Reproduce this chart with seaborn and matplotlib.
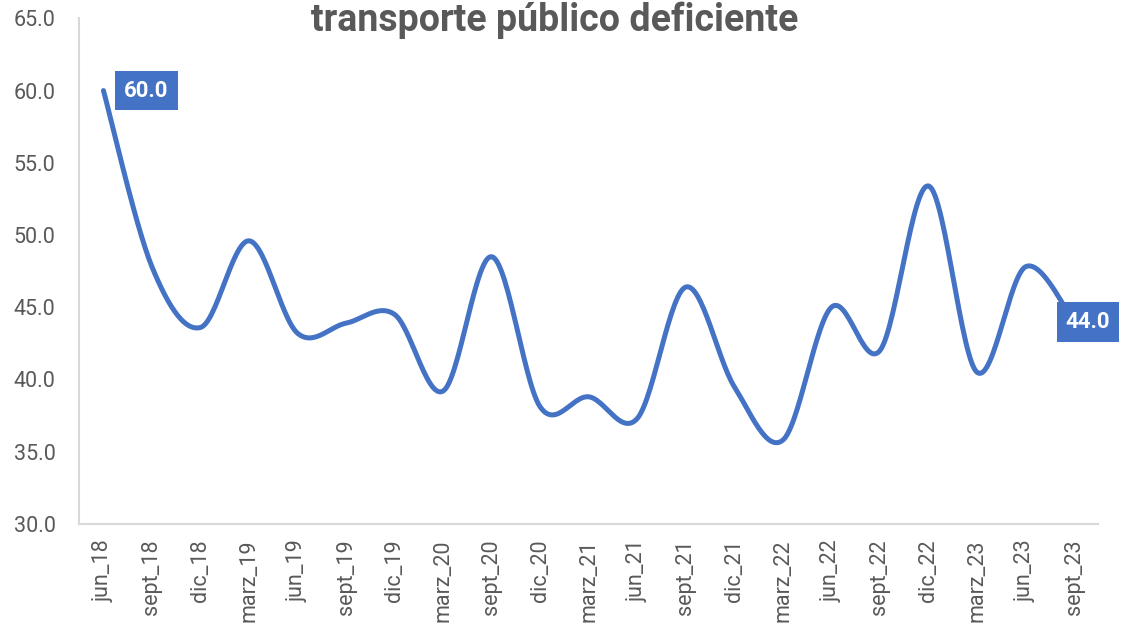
import numpy as np
import pandas as pd
import matplotlib
matplotlib.use("Agg")
import matplotlib.pyplot as plt
import seaborn as sns

# data
periods = ['jun_18', 'sept_18', 'dic_18', 'marz_19', 'jun_19', 'sept_19', 'dic_19',
           'marz_20', 'sept_20', 'dic_20', 'marz_21', 'jun_21', 'sept_21', 'dic_21',
           'marz_22', 'jun_22', 'sept_22', 'dic_22', 'marz_23', 'jun_23', 'sept_23']
values = [60.0, 47.8, 43.6, 49.6, 43.2, 43.9, 44.5,
          39.2, 48.5, 38.1, 38.8, 37.3, 46.4, 39.5,
          35.8, 45.0, 42.0, 53.4, 40.5, 47.8, 44.0]
title = 'transporte público deficiente'
y_ticks = [30, 35, 40, 45, 50, 55, 60, 65]

blue = '#4472C4'
grey = '#595959'

sns.set_theme(style='white')
plt.rcParams['font.family'] = ['Roboto', 'DejaVu Sans']

df = pd.DataFrame({'periodo': periods, 'valor': values})
df['pos'] = np.arange(len(df))


def smooth_line(x, y, n=30):
    '''Excel-like smoothed line: cubic bezier with catmull-rom control points'''
    x = np.asarray(x, float)
    y = np.asarray(y, float)
    xs, ys = [], []
    for i in range(len(x) - 1):
        x0, y0 = (x[i - 1], y[i - 1]) if i > 0 else (x[i], y[i])
        x3, y3 = (x[i + 2], y[i + 2]) if i + 2 < len(x) else (x[i + 1], y[i + 1])
        c1x = x[i] + (x[i + 1] - x0) / 6
        c1y = y[i] + (y[i + 1] - y0) / 6
        c2x = x[i + 1] - (x3 - x[i]) / 6
        c2y = y[i + 1] - (y3 - y[i]) / 6
        t = np.linspace(0, 1, n, endpoint=False)
        b0, b1, b2, b3 = (1 - t) ** 3, 3 * t * (1 - t) ** 2, 3 * t ** 2 * (1 - t), t ** 3
        xs.extend(b0 * x[i] + b1 * c1x + b2 * c2x + b3 * x[i + 1])
        ys.extend(b0 * y[i] + b1 * c1y + b2 * c2y + b3 * y[i + 1])
    xs.append(x[-1])
    ys.append(y[-1])
    return np.array(xs), np.array(ys)


sx, sy = smooth_line(df['pos'], df['valor'])

fig, ax = plt.subplots(figsize=(11.23, 6.32), dpi=100)
fig.subplots_adjust(left=0.0705, right=0.978, top=0.971, bottom=0.171)

sns.lineplot(x=sx, y=sy, sort=False, color=blue, linewidth=3.6,
             solid_capstyle='round', ax=ax)

ax.set_xlim(-0.5, len(periods) - 0.5)
ax.set_ylim(30, 65)
ax.set_yticks(y_ticks)
ax.set_yticklabels([f'{v:.1f}' for v in y_ticks])
ax.set_xticks(df['pos'])
ax.set_xticklabels(periods, rotation=90)
ax.tick_params(axis='y', length=0, pad=17, labelsize=15.5, labelcolor=grey)
ax.tick_params(axis='x', length=0, pad=11, labelsize=15.5, labelcolor=grey)
ax.set_xlabel('')
ax.set_ylabel('')

for side in ['top', 'right']:
    ax.spines[side].set_visible(False)
for side in ['left', 'bottom']:
    ax.spines[side].set_color('#D9D9D9')
    ax.spines[side].set_linewidth(1.5)

# data labels on the first and last point
box = dict(boxstyle='square,pad=0.4', fc=blue, ec='none')
ax.annotate(f'{values[0]:.1f}', xy=(df['pos'].iloc[0], values[0]),
            xytext=(15, 0), textcoords='offset points', ha='left', va='center',
            color='white', fontsize=16, fontweight='bold', bbox=box)
ax.annotate(f'{values[-1]:.1f}', xy=(df['pos'].iloc[-1], values[-1]),
            xytext=(-6, 0), textcoords='offset points', ha='left', va='center',
            color='white', fontsize=16, fontweight='bold', bbox=box,
            annotation_clip=False)

fig.text(0.494, 0.998, title, ha='center', va='top', fontsize=27,
         fontweight='bold', color=grey)

plt.savefig('out.png', dpi=100)
